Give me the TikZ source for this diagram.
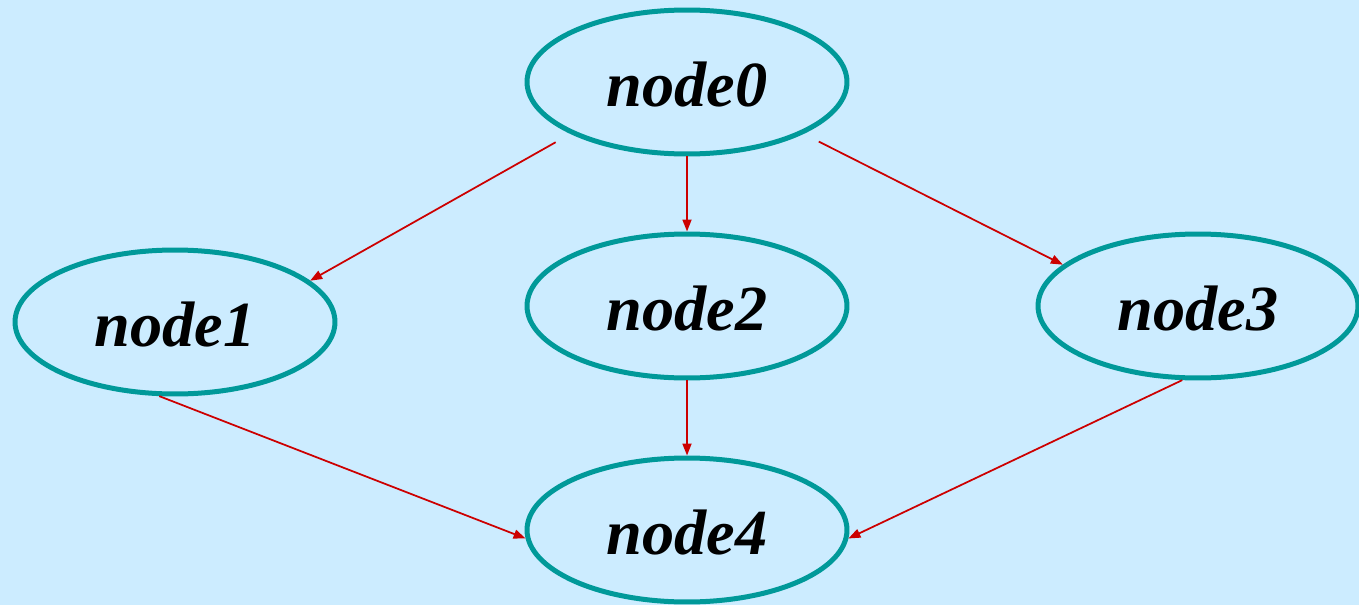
\documentclass[tikz,border=0pt]{standalone}
\usepackage{fontspec}
\setmainfont{Liberation Serif}
\usetikzlibrary{shapes.geometric,arrows.meta}
\definecolor{bgblue}{RGB}{204,236,255}
\definecolor{teal0}{RGB}{0,153,153}
\definecolor{redarr}{RGB}{204,0,0}
\begin{document}
\begin{tikzpicture}[x=0.02cm,y=-0.02cm,
  ell/.style={ellipse,draw=teal0,line width=0.1cm,minimum width=6.4cm,minimum height=2.88cm,inner sep=0pt,
    text height=27.7pt,text depth=0pt,
    font=\fontsize{36.6pt}{40pt}\selectfont\bfseries\itshape},
  conn/.style={draw=redarr,line width=0.035cm,-{Triangle[length=0.24cm,width=0.18cm]}}]
\fill[bgblue] (0,0) rectangle (1359,605);
\useasboundingbox (0,0) rectangle (1359,605);
\node[ell] (n0) at (687,82) {node0};
\node[ell] (n1) at (175,322) {node1};
\node[ell] (n2) at (687,306) {node2};
\node[ell] (n3) at (1198,306) {node3};
\node[ell] (n4) at (687,530) {node4};
\draw[conn,shorten <=0.34cm] (n0.204) -- (n1.17);
\draw[conn] (n0.south) -- (n2.north);
\draw[conn,shorten <=0.34cm] (n0.336) -- (n3.163);
\draw[conn] (n1.258) -- (n4.183);
\draw[conn] (n2.south) -- (n4.north);
\draw[conn] (n3.258) -- (n4.357);
\end{tikzpicture}
\end{document}
